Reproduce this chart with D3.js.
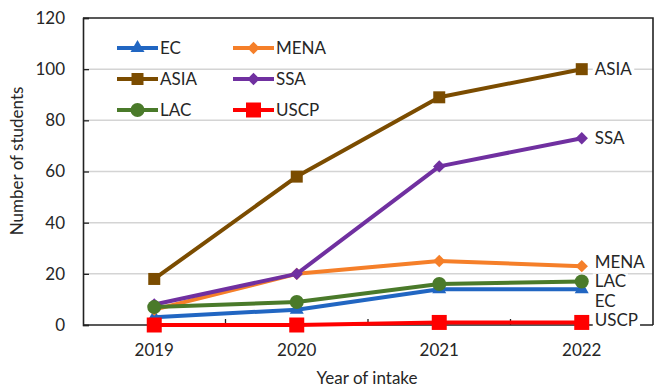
<!DOCTYPE html>
<html>
<head>
<meta charset="utf-8">
<script src="https://cdn.jsdelivr.net/npm/d3@7/dist/d3.min.js"></script>
<style>
  html, body { margin: 0; padding: 0; background: #fff; }
  svg { display: block; font-family: Lato, "Open Sans", sans-serif; }
</style>
</head>
<body>
<svg id="chart" width="662" height="387"></svg>
<script>
// Intake years and student counts per region
const years = ["2019", "2020", "2021", "2022"];
const seriesNames = ["EC", "MENA", "ASIA", "SSA", "LAC", "USCP"];
const ecValues   = [3, 6, 14, 14];
const menaValues = [6, 20, 25, 23];
const asiaValues = [18, 58, 89, 100];
const ssaValues  = [8, 20, 62, 73];
const lacValues  = [7, 9, 16, 17];
const uscpValues = [0, 0, 1, 1];
const yTicks = [0, 20, 40, 60, 80, 100, 120];

// Styling for each series
const style = {
  EC:   { color: "#2166c2", marker: "triangle", size: 13 },
  MENA: { color: "#f57f29", marker: "diamond",  size: 14 },
  ASIA: { color: "#7b4c00", marker: "square",   size: 12 },
  SSA:  { color: "#7030a0", marker: "diamond",  size: 14 },
  LAC:  { color: "#4a7a2a", marker: "circle",   size: 14 },
  USCP: { color: "#ff0000", marker: "square",   size: 15 }
};
// Vertical nudge of the end-of-line labels so they do not collide
const labelNudge = { EC: 12, MENA: -4, ASIA: 0, SSA: 0, LAC: 0, USCP: -2 };
const fontSize = 17;

const series = [
  { name: "EC", values: ecValues },
  { name: "MENA", values: menaValues },
  { name: "ASIA", values: asiaValues },
  { name: "SSA", values: ssaValues },
  { name: "LAC", values: lacValues },
  { name: "USCP", values: uscpValues }
];

const svg = d3.select("#chart");
const plotLeft = 83, plotRight = 653, plotTop = 18, plotBottom = 325;

const x = d3.scaleBand().domain(years).range([plotLeft, plotRight]);
const y = d3.scaleLinear().domain([0, 120]).range([plotBottom, plotTop]);
const cx = d => x(d) + x.bandwidth() / 2;

// Horizontal gridlines
svg.append("g")
  .selectAll("line")
  .data(yTicks.filter(t => t > 0 && t < 120))
  .join("line")
  .attr("x1", plotLeft).attr("x2", plotRight)
  .attr("y1", d => y(d)).attr("y2", d => y(d))
  .attr("stroke", "#d4d4d4").attr("stroke-width", 1.5);

// Plot frame (top and right)
svg.append("path")
  .attr("d", `M${plotLeft},${plotTop}H${plotRight}V${plotBottom}`)
  .attr("fill", "none").attr("stroke", "#222").attr("stroke-width", 1.6);

// Y axis with inward ticks
const yAxis = svg.append("g")
  .attr("transform", `translate(${plotLeft},0)`)
  .call(d3.axisRight(y).tickValues(yTicks).tickSize(6).tickFormat(""));
yAxis.select(".domain").attr("stroke", "#222").attr("stroke-width", 1.6);
yAxis.selectAll(".tick line").attr("stroke", "#222").attr("stroke-width", 1.3);

svg.append("g")
  .selectAll("text")
  .data(yTicks)
  .join("text")
  .attr("x", 65).attr("y", d => y(d))
  .attr("dy", "0.35em")
  .attr("text-anchor", "end")
  .attr("font-size", fontSize).attr("fill", "#262626")
  .text(d => d);

// X axis with inward ticks between categories
svg.append("line")
  .attr("x1", plotLeft).attr("x2", plotRight)
  .attr("y1", plotBottom).attr("y2", plotBottom)
  .attr("stroke", "#222").attr("stroke-width", 1.6);
svg.append("g")
  .selectAll("line")
  .data(years.slice(1))
  .join("line")
  .attr("x1", d => x(d)).attr("x2", d => x(d))
  .attr("y1", plotBottom).attr("y2", plotBottom - 6)
  .attr("stroke", "#222").attr("stroke-width", 1.3);

svg.append("g")
  .selectAll("text")
  .data(years)
  .join("text")
  .attr("x", d => cx(d)).attr("y", 356)
  .attr("text-anchor", "middle")
  .attr("font-size", fontSize).attr("fill", "#262626")
  .text(d => d);

// Axis titles
svg.append("text")
  .attr("x", 367).attr("y", 384)
  .attr("text-anchor", "middle")
  .attr("font-size", fontSize).attr("fill", "#262626")
  .text("Year of intake");
svg.append("text")
  .attr("transform", "translate(23,161) rotate(-90)")
  .attr("text-anchor", "middle")
  .attr("font-size", fontSize).attr("fill", "#262626")
  .text("Number of students");

// Marker shapes
const symbolType = {
  triangle: d3.symbolTriangle,
  diamond: d3.symbolDiamond2,
  square: d3.symbolSquare,
  circle: d3.symbolCircle
};
function markerPath(s) {
  const k = style[s];
  const area = k.marker === "circle" ? Math.PI * (k.size / 2) ** 2
    : k.marker === "diamond" ? k.size * k.size / 2
    : k.marker === "triangle" ? k.size * k.size * 0.5
    : k.size * k.size;
  return d3.symbol().type(symbolType[k.marker]).size(area)();
}

const line = d3.line().x((d, i) => cx(years[i])).y(d => y(d));

// Lines and markers
series.forEach(s => {
  const g = svg.append("g");
  g.append("path")
    .datum(s.values)
    .attr("d", line)
    .attr("fill", "none")
    .attr("stroke", style[s.name].color)
    .attr("stroke-width", 4)
    .attr("stroke-linejoin", "round");
  g.selectAll("path.m")
    .data(s.values)
    .join("path")
    .attr("class", "m")
    .attr("transform", (d, i) => `translate(${cx(years[i])},${y(d)})`)
    .attr("d", markerPath(s.name))
    .attr("fill", style[s.name].color);
});

// End-of-line labels with white backing
series.forEach(s => {
  const last = s.values[s.values.length - 1];
  const ly = y(last) + labelNudge[s.name];
  const lx = cx(years[years.length - 1]) + 13;
  const g = svg.append("g");
  const t = g.append("text")
    .attr("x", lx).attr("y", ly)
    .attr("dy", "0.35em")
    .attr("font-size", fontSize).attr("fill", "#262626")
    .text(s.name);
  const bb = t.node().getBBox();
  g.insert("rect", "text")
    .attr("x", bb.x - 2).attr("y", bb.y + 3)
    .attr("width", bb.width + 4).attr("height", bb.height - 6)
    .attr("fill", "#fff");
});

// Legend, filled row by row in two columns
const legendCols = [117, 233];
const legendRows = [48, 79, 110];
const legend = svg.append("g");
seriesNames.forEach((name, i) => {
  const lx = legendCols[i % 2];
  const ly = legendRows[Math.floor(i / 2)];
  const g = legend.append("g");
  g.append("line")
    .attr("x1", lx).attr("x2", lx + 41)
    .attr("y1", ly).attr("y2", ly)
    .attr("stroke", style[name].color).attr("stroke-width", 4);
  g.append("path")
    .attr("transform", `translate(${lx + 20.5},${ly})`)
    .attr("d", markerPath(name))
    .attr("fill", style[name].color);
  g.append("text")
    .attr("x", lx + 43).attr("y", ly)
    .attr("dy", "0.35em")
    .attr("font-size", fontSize).attr("fill", "#262626")
    .text(name);
});
</script>
</body>
</html>
